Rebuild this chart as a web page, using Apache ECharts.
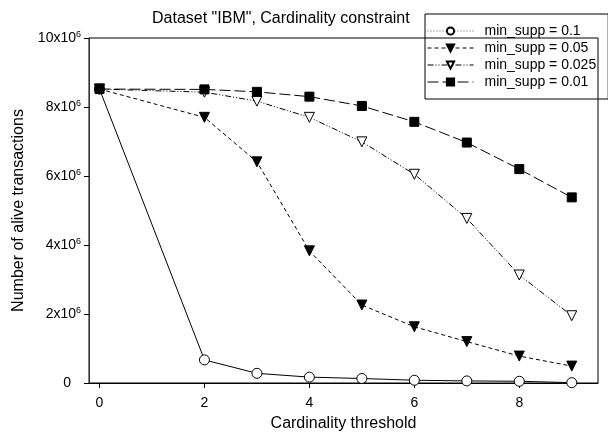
<!DOCTYPE html>
<html>
<head>
<meta charset="utf-8">
<script src="https://cdn.jsdelivr.net/npm/echarts@6/dist/echarts.min.js"></script>
<style>html,body{margin:0;padding:0;background:#fff;}#c{width:608px;height:441px;}</style>
</head>
<body>
<div id="c"></div>
<script>
// Cardinality threshold values (x)
const thresholds = [0, 2, 3, 4, 5, 6, 7, 8, 9];
// Number of alive transactions, in units of 10^6
const supp010 = [8.52, 0.67, 0.28, 0.17, 0.13, 0.08, 0.06, 0.05, 0.01];
const supp005 = [8.52, 7.70, 6.41, 3.83, 2.26, 1.63, 1.20, 0.78, 0.49];
const supp0025 = [8.52, 8.43, 8.17, 7.70, 6.99, 6.05, 4.77, 3.13, 1.95];
const supp001 = [8.52, 8.51, 8.44, 8.30, 8.03, 7.57, 6.97, 6.20, 5.38];
const seriesNames = ['min_supp = 0.1', 'min_supp = 0.05', 'min_supp = 0.025', 'min_supp = 0.01'];
const xTickValues = [0, 2, 4, 6, 8];

const FONT = '"Liberation Sans", Arial, sans-serif';
const pairs = arr => thresholds.map((x, i) => [x, arr[i]]);

const chart = echarts.init(document.getElementById('c'), null, {renderer: 'canvas'});
chart.setOption({
  animation: false,
  backgroundColor: '#fff',
  textStyle: {fontFamily: FONT, color: '#000'},
  title: {
    text: 'Dataset "IBM", Cardinality constraint',
    left: 147, top: 6,
    textStyle: {fontFamily: FONT, fontSize: 16, fontWeight: 'normal', color: '#000'}
  },
  grid: {left: 89, right: 10, top: 38, bottom: 58, show: true, borderColor: '#000', borderWidth: 1, backgroundColor: 'transparent'},
  legend: {
    orient: 'vertical',
    left: 425, top: 14,
    borderColor: '#000', borderWidth: 1, borderRadius: 0,
    padding: [10, 12, 10, 2],
    itemGap: 3,
    itemWidth: 46, itemHeight: 9,
    lineStyle: {width: 1},
    textStyle: {fontFamily: FONT, fontSize: 14, color: '#000', padding: [0, 0, 0, 6]},
    data: [
      {name: seriesNames[0], lineStyle: {type: [1, 2], color: '#555', width: 1}},
      {name: seriesNames[1]},
      {name: seriesNames[2]},
      {name: seriesNames[3]}
    ]
  },
  xAxis: {
    type: 'value', min: -0.2, max: 9.5,
    name: 'Cardinality threshold', nameLocation: 'middle', nameGap: 33,
    nameTextStyle: {fontFamily: FONT, fontSize: 16, color: '#000'},
    axisLine: {onZero: false, lineStyle: {color: '#000', width: 1}},
    axisTick: {customValues: xTickValues, length: 5, lineStyle: {color: '#000'}},
    axisLabel: {customValues: xTickValues, fontFamily: FONT, fontSize: 14, color: '#000', margin: 13},
    splitLine: {show: false}
  },
  yAxis: {
    type: 'value', min: 0, max: 10, interval: 2,
    name: 'Number of alive transactions', nameLocation: 'middle', nameGap: 62,
    nameTextStyle: {fontFamily: FONT, fontSize: 16, color: '#000'},
    axisLine: {show: true, onZero: false, lineStyle: {color: '#333', width: 1}},
    axisTick: {show: true, length: 5, lineStyle: {color: '#000'}},
    axisLabel: {
      margin: 8, fontFamily: FONT, fontSize: 14, color: '#000',
      formatter: v => v === 0 ? '{z|0}' : '{b|' + v + 'x10}{s|6}',
      rich: {
        z: {fontFamily: FONT, fontSize: 14, color: '#000', padding: [0, 10, 0, 0]},
        b: {fontFamily: FONT, fontSize: 14, color: '#000'},
        s: {fontFamily: FONT, fontSize: 9, color: '#000', verticalAlign: 'top', padding: [0, 0, 7, 0]}
      }
    },
    splitLine: {show: false}
  },
  series: [
    {
      name: seriesNames[0], type: 'line', data: pairs(supp010),
      symbol: 'circle', symbolSize: 10,
      lineStyle: {color: '#000', width: 1, type: 'solid'},
      itemStyle: {color: '#fff', borderColor: '#000', borderWidth: 1}
    },
    {
      name: seriesNames[1], type: 'line', data: pairs(supp005),
      symbol: 'triangle', symbolRotate: 180, symbolSize: 10,
      lineStyle: {color: '#000', width: 1, type: [4, 3]},
      itemStyle: {color: '#000', borderColor: '#000', borderWidth: 1}
    },
    {
      name: seriesNames[2], type: 'line', data: pairs(supp0025),
      symbol: 'triangle', symbolRotate: 180, symbolSize: 10,
      lineStyle: {color: '#000', width: 1, type: [6, 2, 1, 2, 1, 2]},
      itemStyle: {color: '#fff', borderColor: '#000', borderWidth: 1}
    },
    {
      name: seriesNames[3], type: 'line', data: pairs(supp001),
      symbol: 'rect', symbolSize: 9,
      lineStyle: {color: '#000', width: 1, type: [11, 4]},
      itemStyle: {color: '#000', borderColor: '#000', borderWidth: 1}
    }
  ]
});
</script>
</body>
</html>
